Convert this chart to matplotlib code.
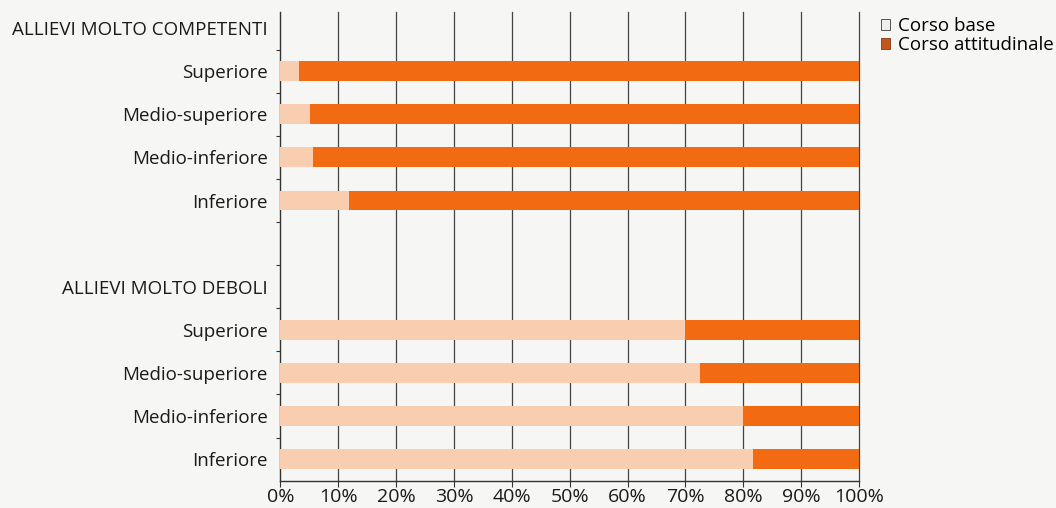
import matplotlib
matplotlib.use('agg')
import matplotlib.pyplot as plt
from matplotlib.patches import Patch
import numpy as np

# dati (percentuali)
righe = ["ALLIEVI MOLTO COMPETENTI", "Superiore", "Medio-superiore", "Medio-inferiore", "Inferiore",
         "", "ALLIEVI MOLTO DEBOLI", "Superiore", "Medio-superiore", "Medio-inferiore", "Inferiore"]
corso_base = [None, 3.2, 5.1, 5.7, 11.9, None, None, 70.0, 72.5, 79.9, 81.7]
corso_attitudinale = [None, 96.8, 94.9, 94.3, 88.1, None, None, 30.0, 27.5, 20.1, 18.3]
xticks = [0, 10, 20, 30, 40, 50, 60, 70, 80, 90, 100]

col_base = '#f9cdb0'
col_att = '#f26a12'
sfondo = '#f6f6f4'

plt.rcParams['font.family'] = ['Open Sans', 'DejaVu Sans']

fig = plt.figure(figsize=(10.56, 5.08), dpi=100, facecolor=sfondo)
ax = fig.add_axes([0.2656, 0.0531, 0.8134 - 0.2656, 0.976 - 0.0531], facecolor=sfondo)

y = np.arange(len(righe))
for i in range(len(righe)):
    if corso_base[i] is None:
        continue
    ax.barh(y[i], corso_base[i], height=0.46, color=col_base, zorder=3)
    ax.barh(y[i], corso_attitudinale[i], left=corso_base[i], height=0.46, color=col_att, zorder=3)

ax.set_xlim(0, 100)
ax.set_ylim(10.51, -0.37)
ax.set_xticks(xticks)
ax.set_xticklabels([f"{v}%" for v in xticks], fontsize=14)
ax.set_yticks(y)
ax.set_yticklabels(righe, fontsize=13.5, color='#1a1a1a')
ax.set_yticks(np.arange(0.5, 10.5, 1), minor=True)
ax.tick_params(axis='y', which='major', length=0, pad=9)
ax.tick_params(axis='y', which='minor', length=3, width=0.8, direction='out', color='#333333')
ax.tick_params(axis='x', length=4, width=0.8, color='#333333', pad=1, labelcolor='#1a1a1a')

for v in xticks[1:]:
    ax.axvline(v, color='#444444', lw=0.9, zorder=1, clip_on=False)

for s in ['top', 'right']:
    ax.spines[s].set_visible(False)
ax.spines['left'].set_color('#333333')
ax.spines['bottom'].set_color('#333333')
ax.spines['left'].set_linewidth(1.0)
ax.spines['bottom'].set_linewidth(1.0)

handles = [Patch(facecolor='#eeeeee', edgecolor='#555555', lw=0.7, label='Corso base'),
           Patch(facecolor='#c4561c', edgecolor='#8a4a2a', lw=0.7, label='Corso attitudinale')]
fig.legend(handles=handles, loc='upper left', bbox_to_anchor=(0.818, 1.0), frameon=False,
           fontsize=13.5, handlelength=0.5, handleheight=0.5, handletextpad=0.4, labelspacing=0.05)

fig.savefig('out.png', dpi=100, facecolor=sfondo)
